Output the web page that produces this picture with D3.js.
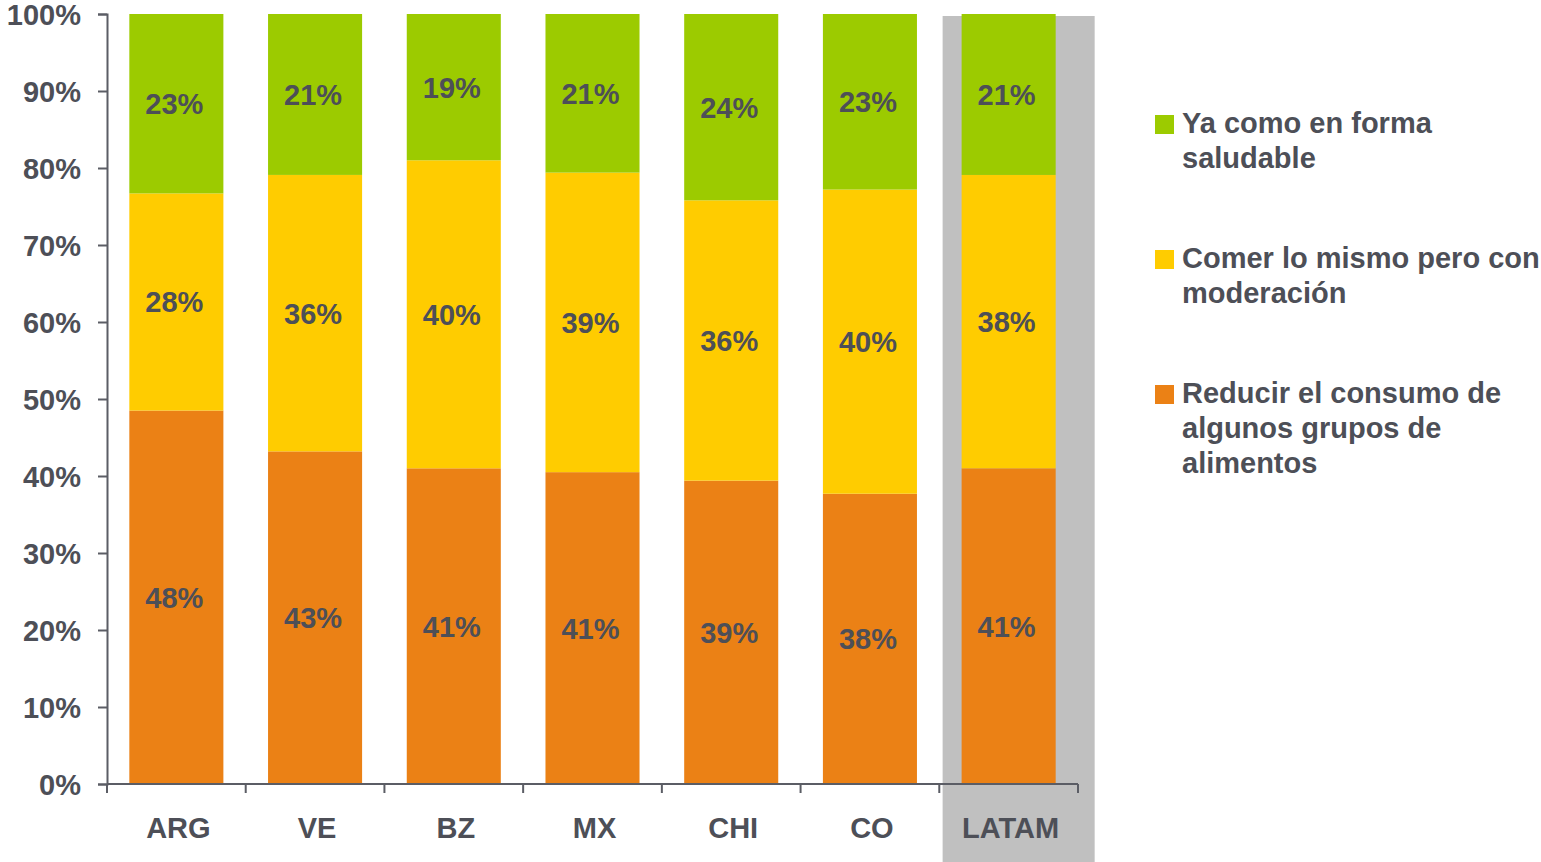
<!DOCTYPE html>
<html>
<head>
<meta charset="utf-8">
<script src="https://cdn.jsdelivr.net/npm/d3@7"></script>
<style>
  body { margin: 0; background: #fff; }
  text { font-family: "Liberation Sans", Arial, sans-serif; font-weight: bold; fill: #4d4f57; }
</style>
</head>
<body>
<div id="chart"></div>
<script>
// data (shares, 0-100)
var categories = ["ARG", "VE", "BZ", "MX", "CHI", "CO", "LATAM"];
var reducir = [48.5, 43.2, 41.0, 40.5, 39.4, 37.7, 41.0];
var comer = [28.2, 35.9, 40.0, 38.9, 36.4, 39.5, 38.1];
var saludable = [23.3, 20.9, 19.0, 20.6, 24.2, 22.8, 20.9];
var labReducir = ["48%", "43%", "41%", "41%", "39%", "38%", "41%"];
var labComer = ["28%", "36%", "40%", "39%", "36%", "40%", "38%"];
var labSaludable = ["23%", "21%", "19%", "21%", "24%", "23%", "21%"];
var yTicks = [0, 10, 20, 30, 40, 50, 60, 70, 80, 90, 100];
var seriesNames = [
  ["Ya como en forma", "saludable"],
  ["Comer lo mismo pero con", "moderación"],
  ["Reducir el consumo de", "algunos grupos de", "alimentos"]
];
var colors = { reducir: "#eb8115", comer: "#ffcc00", saludable: "#9ccb00" };

var width = 1541, height = 862;
var margin = {top: 14, left: 107, right: 463, bottom: 78};
var axisColor = "#5b5d65";
var fontSize = "29px";

var svg = d3.select("#chart").append("svg")
  .attr("width", width)
  .attr("height", height);

var x = d3.scaleBand()
  .domain(categories)
  .range([margin.left, width - margin.right])
  .paddingInner(0.322)
  .paddingOuter(0.161);

var y = d3.scaleLinear()
  .domain([0, 100])
  .range([height - margin.bottom, margin.top]);

// highlight behind LATAM
svg.append("rect")
  .attr("x", x("LATAM") - 19)
  .attr("y", margin.top + 2)
  .attr("width", x.bandwidth() + 58)
  .attr("height", height - margin.top - 2)
  .style("fill", "#c0c0c0");

var rows = categories.map(function(c, i) {
  return { cat: c, reducir: reducir[i], comer: comer[i], saludable: saludable[i],
           labs: { reducir: labReducir[i], comer: labComer[i], saludable: labSaludable[i] } };
});

var stack = d3.stack().keys(["reducir", "comer", "saludable"]);
var layers = stack(rows);

var g = svg.append("g");
layers.forEach(function(layer) {
  var key = layer.key;
  g.selectAll(".bar-" + key)
    .data(layer)
    .enter().append("rect")
    .attr("class", "bar-" + key)
    .attr("x", function(d) { return x(d.data.cat); })
    .attr("width", x.bandwidth())
    .attr("y", function(d) { return y(d[1]); })
    .attr("height", function(d) { return y(d[0]) - y(d[1]); })
    .style("fill", colors[key]);

  g.selectAll(".lab-" + key)
    .data(layer)
    .enter().append("text")
    .attr("class", "lab-" + key)
    .attr("x", function(d) { return x(d.data.cat) + x.bandwidth() / 2 - 2; })
    .attr("y", function(d) { return (y(d[0]) + y(d[1])) / 2; })
    .attr("text-anchor", "middle")
    .attr("dy", "0.36em")
    .style("font-size", fontSize)
    .text(function(d) { return d.data.labs[key]; });
});

// y axis
var yAxis = svg.append("g")
  .attr("transform", "translate(" + margin.left + ",0)")
  .call(d3.axisLeft(y).tickValues(yTicks).tickSize(9).tickPadding(17)
        .tickFormat(function(d) { return d + "%"; }));
yAxis.select(".domain").attr("stroke", axisColor).attr("stroke-width", 2);
yAxis.selectAll(".tick line").attr("stroke", axisColor).attr("stroke-width", 2);
yAxis.selectAll(".tick text")
  .style("font-size", fontSize)
  .style("font-family", "'Liberation Sans', Arial, sans-serif")
  .style("fill", "#4d4f57")
  .attr("dy", "0.36em");

// x axis: line with ticks at band boundaries
var x0 = margin.left, x1 = width - margin.right, yb = y(0);
svg.append("line")
  .attr("x1", x0).attr("x2", x1).attr("y1", yb).attr("y2", yb)
  .attr("stroke", axisColor).attr("stroke-width", 2);
var bounds = d3.range(categories.length + 1).map(function(i) { return x0 + i * x.step(); });
svg.selectAll(".xtick")
  .data(bounds)
  .enter().append("line")
  .attr("x1", function(d) { return d; }).attr("x2", function(d) { return d; })
  .attr("y1", yb).attr("y2", yb + 9)
  .attr("stroke", axisColor).attr("stroke-width", 2);
svg.selectAll(".xlab")
  .data(categories)
  .enter().append("text")
  .attr("x", function(d) { return x(d) + x.bandwidth() / 2 + 2; })
  .attr("y", yb + 54)
  .attr("text-anchor", "middle")
  .style("font-size", fontSize)
  .text(function(d) { return d; });

// legend
var legendColors = [colors.saludable, colors.comer, colors.reducir];
var legendTop = [133, 268, 403];
var leg = svg.append("g");
seriesNames.forEach(function(lines, i) {
  leg.append("rect")
    .attr("x", 1155).attr("y", legendTop[i] - 18)
    .attr("width", 19).attr("height", 19)
    .style("fill", legendColors[i]);
  leg.append("text")
    .attr("x", 1182).attr("y", legendTop[i])
    .style("font-size", fontSize)
    .selectAll("tspan")
    .data(lines)
    .enter().append("tspan")
    .attr("x", 1182)
    .attr("dy", function(d, j) { return j === 0 ? 0 : 35; })
    .text(function(d) { return d; });
});
</script>
</body>
</html>
